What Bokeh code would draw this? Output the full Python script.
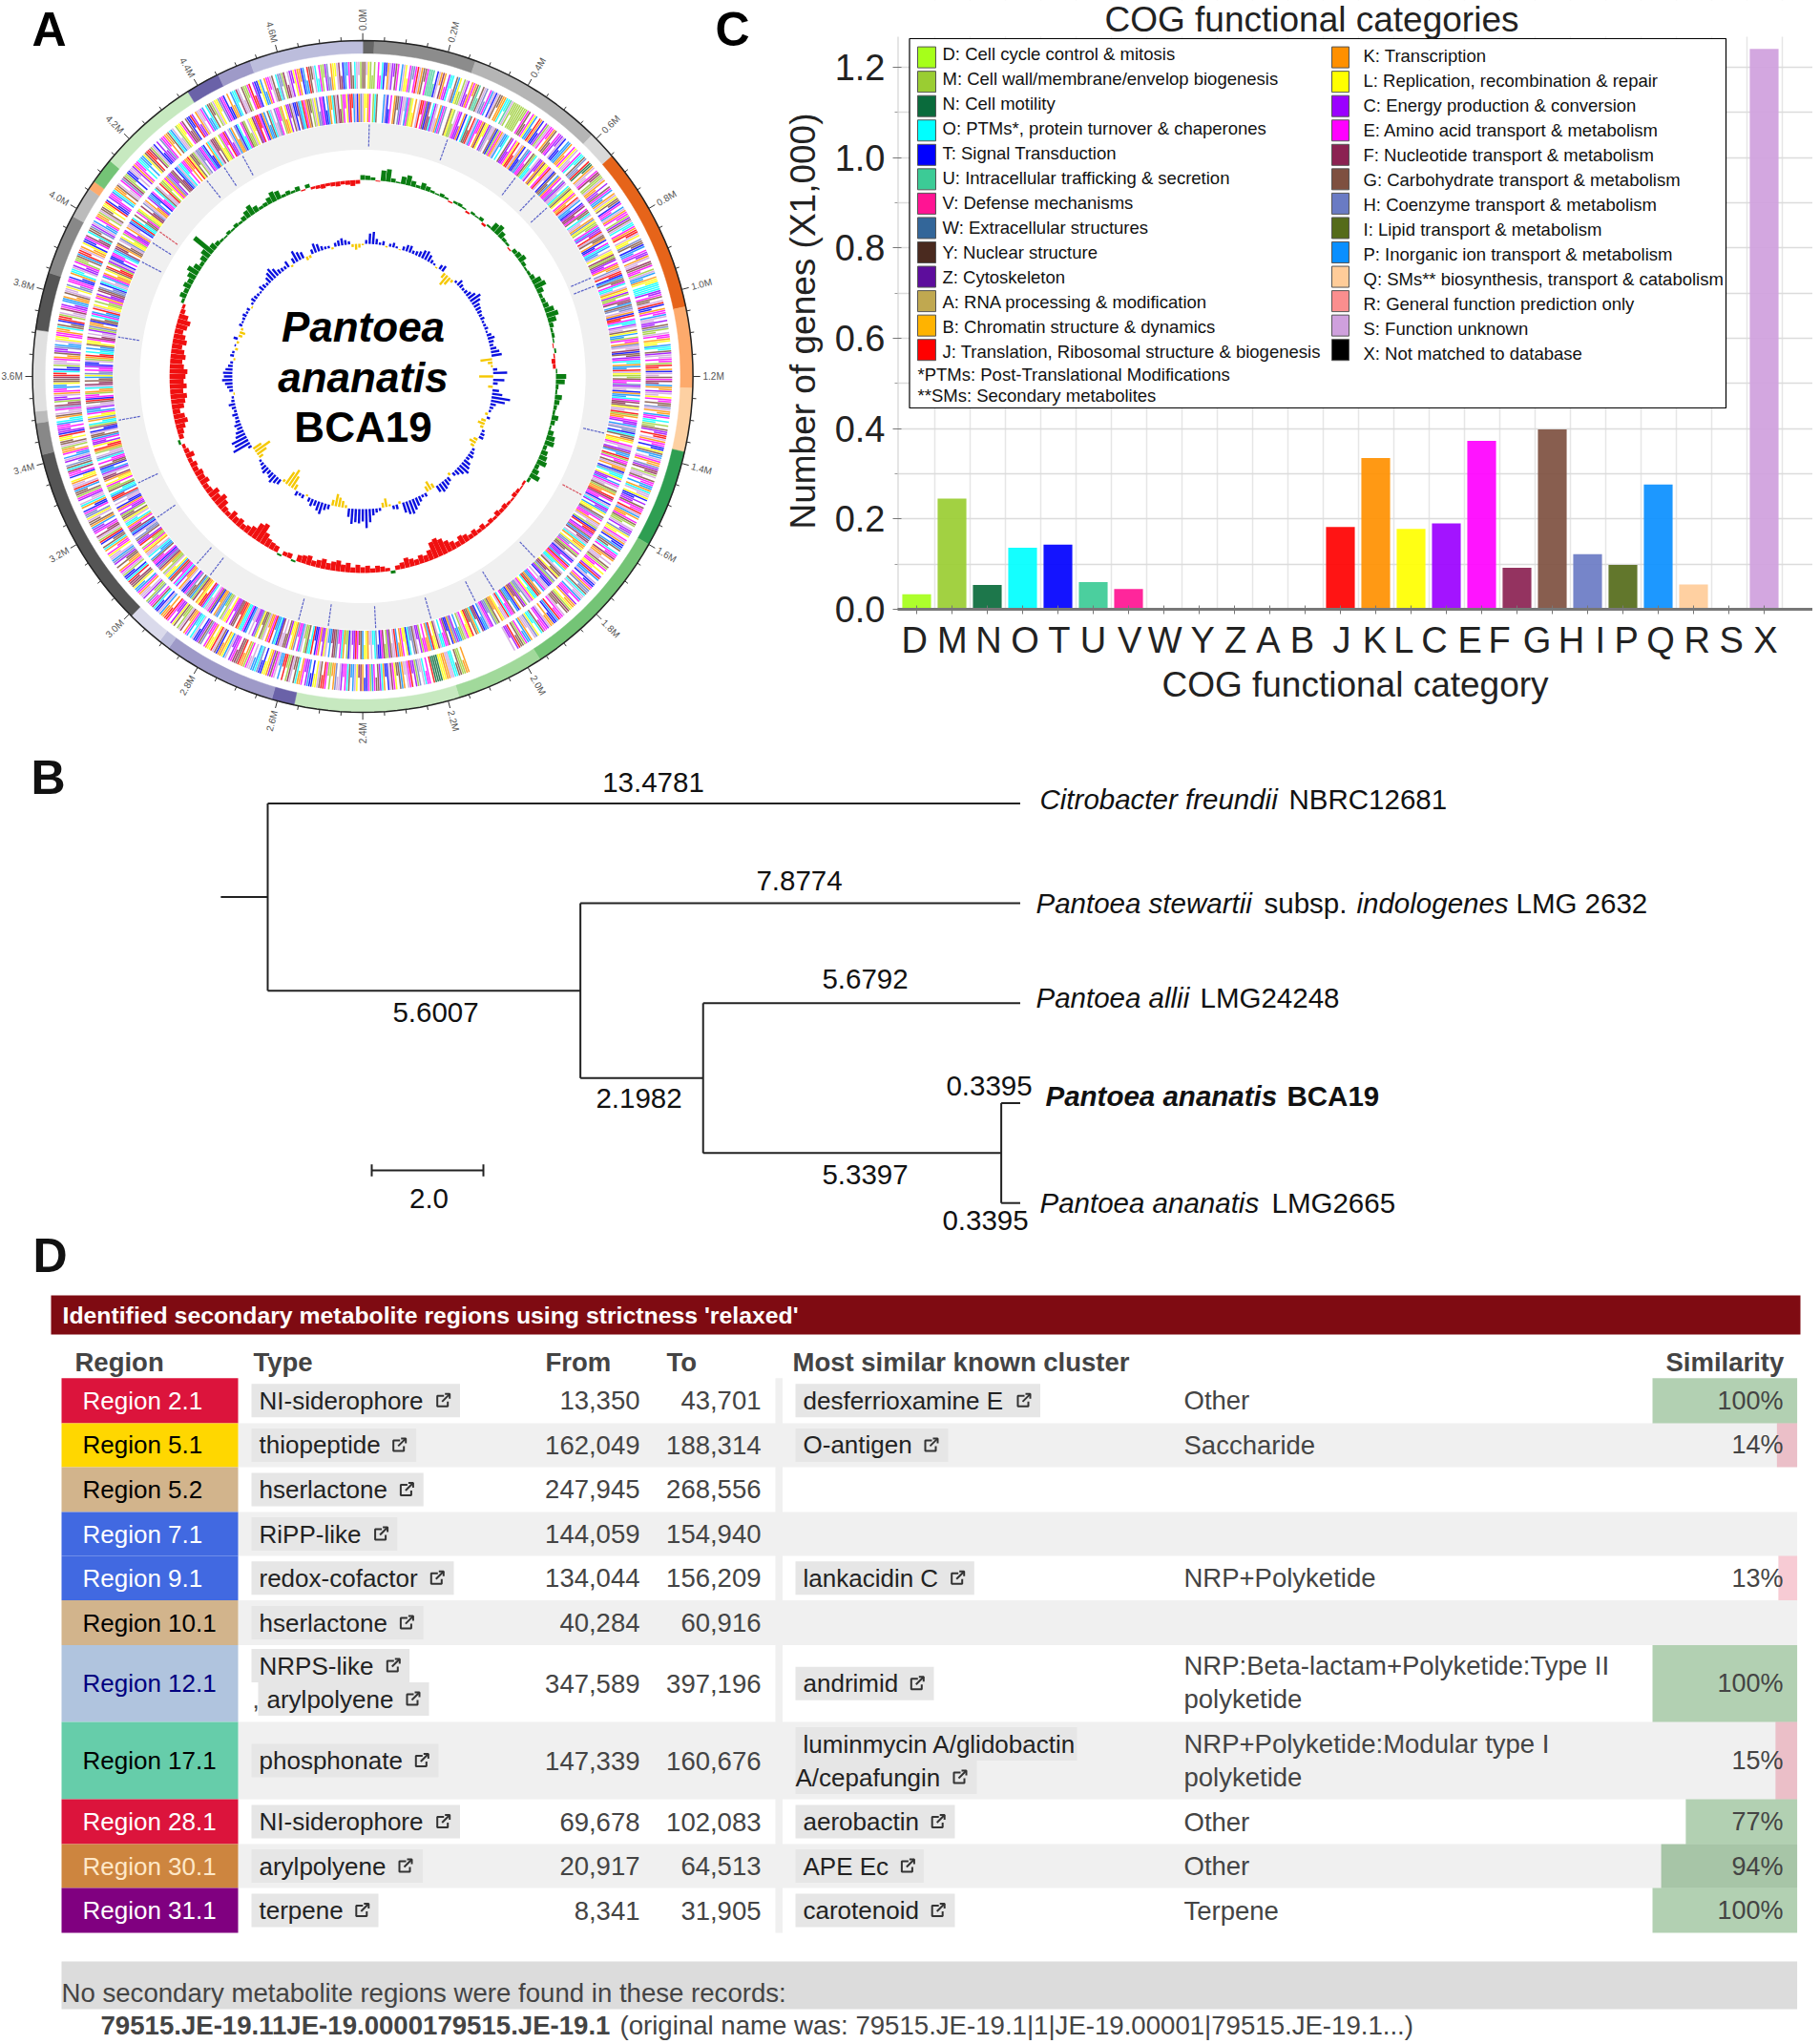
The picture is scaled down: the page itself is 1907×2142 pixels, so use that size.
import math
from bokeh.plotting import figure
from bokeh.layouts import column, row
from bokeh.models import Range1d, FixedTicker
from bokeh.core.properties import value
from bokeh.embed import file_html
from bokeh.resources import INLINE

FONT = value("Liberation Sans")
AXFONT = "Liberation Sans"

# ---------- COG data ----------
# axis letters, and where each letter sits in bar-position units (the letters do not line up with the bars)
cog_order = ["D","M","N","O","T","U","V","W","Y","Z","A","B","J","K","L","C","E","F","G","H","I","P","Q","R","S","X"]
cog_letter_pos = [-0.06,1.01,2.04,3.07,4.04,5.0,6.03,7.03,8.1,9.03,9.96,10.92,12.04,12.97,13.79,14.66,15.67,16.5,17.57,18.54,19.36,20.1,21.07,22.1,23.07,24.04]
bar_values = [0.033,0.245,0.054,0.136,0.143,0.060,0.045,0,0,0,0,0,0.182,0.335,0.178,0.190,0.373,0.092,0.398,0.122,0.098,0.276,0.055,0,1.240]
bar_colors = ["#a6ff1a","#9acd32","#0a6b3c","#00ffff","#0000ff","#3ccb96","#ff1493","#336699","#4a2a1f","#5d0d9c","#c0a850","#ffb300",
              "#ff0000","#ff9000","#ffff00","#9b00ff","#ff00ff","#8b2252","#7e5040","#6a7bc4","#556b1a","#0a8fff","#ffcc99","#fa8e8e","#cfa0dd"]
legend_left = ["D: Cell cycle control & mitosis","M: Cell wall/membrane/envelop  biogenesis","N: Cell motility",
               "O: PTMs*, protein turnover & chaperones","T: Signal Transduction","U: Intracellular trafficking & secretion",
               "V: Defense mechanisms","W: Extracellular structures","Y: Nuclear structure","Z: Cytoskeleton",
               "A: RNA processing & modification","B: Chromatin structure & dynamics","J: Translation, Ribosomal structure & biogenesis"]
legend_right = ["K: Transcription","L: Replication, recombination & repair","C: Energy production & conversion",
                "E: Amino acid transport & metabolism","F: Nucleotide transport & metabolism","G: Carbohydrate transport & metabolism",
                "H: Coenzyme transport & metabolism","I: Lipid transport & metabolism","P: Inorganic ion transport & metabolism",
                "Q: SMs** biosynthesis, transport & catabolism","R: General function prediction only","S: Function unknown","X: Not matched to database"]
legend_left_colors = bar_colors[:13]
legend_right_colors = ["#ff9000","#ffff00","#9b00ff","#ff00ff","#8b2252","#7e5040","#6a7bc4","#556b1a","#0a8fff","#ffcc99","#fa8e8e","#cfa0dd","#000000"]
legend_notes = ["*PTMs: Post-Translational Modifications","**SMs: Secondary metabolites"]
color_of = dict(zip("DMNOTUVWYZABJ", legend_left_colors))
color_of.update(dict(zip("KLCEFGHIPQRSX", legend_right_colors)))

# ---------- Circular genome (panel A) ----------
ring_edges = [0,2,20,44,49,78,92,103,120,147.5,163,192,196,216,218,224.5,256.5,262,264,278,288,298.5,304,305.5,310,328,334,340,360]
ring_colors = ["#666666","#8c8c8c","#b5b5b5","#d9d9d9","#e6641a","#fdaa6c","#fdd0a2","#2e9e52","#74c476","#a1d99b","#c7e9c0",
               "#6a62a8","#9e9ac8","#bcbddc","#dadaeb","#555555","#888888","#bbbbbb","#e0e0e0","#555555","#888888","#bbbbbb",
               "#fdaa6c","#74c476","#c7e9c0","#6a62a8","#9e9ac8","#bcbddc"]
genome_mb = 4.8
major_labels = ["0.0M","0.2M","0.4M","0.6M","0.8M","1.0M","1.2M","1.4M","1.6M","1.8M","2.0M","2.2M","2.4M","2.6M","2.8M","3.0M","3.2M","3.4M","3.6M","3.8M","4.0M","4.2M","4.4M","4.6M"]
rna_deg = [1.5,20,38,44,48,67,69,103,136,148,153,164,177,188,195,218,222,236,245,260,279,297,302,321,326,331]
rna_red_deg = [118,305]

# gene stripes, clockwise from 0.0M; letter = COG class, lower case = short stripe, '.' = no gene
cds_forward = ("GGsLMmM.EeOTtKSCcGE.PSLlEHhEJSKGgEUUUuTSkFKeCOosGPLmMSCcKEkGUuGSHhEPsTSGgKKOoUSMm"
               "MMMMMmEGgELPpJKTtCMSEeKGgECcSTtPPKkELSsEOoGHhJNnKSsEFfMMSKkCcGEPpKSLGgTEePSKEeMCG"
               "SOoEKJjSLlHGgTPpECcKSsFGEeMSPpKLlOOOOCcEGgSJTtKEePSsCcGHMmSEeKLlPOoGCSsEeMJjKTSsG"
               "EFfPKkCSsLEeGgHSKkPEeOoMmGCcJjSKEeTtLGPpSEKkHCFfMSsGEePpKOSsLTtCcGEeJSPKkEGMmSCcH"
               "LlESKTtPGgOEeFKkSsGMEeLlCJPpSTtEKHhGOSsPEeCKkLMFGgSEeJPTtKkSCEeGOoLHSsKPpEMGgJCcS"
               "........................KkMMGgOOSSKKLLNNNNJ.EeOSsHMCcJESsKPGgLEFSTtKOCGgEPM"
               "ETtKFfLSPpGOEeCSsHKkMmEJjGSLlTtPCcEKkOGgSFMmJjPpSEGCKLlTtHOPpSsEMKkJGFfECcSPLKkTG"
               "SJLlKEeHGCTtSOoPEKkFSMmGLCcEJjKkPSTtOGEeHMmCSsKEPpLGFfJOTtMSEKkGgCHPSsLEeKOGgTJMS"
               "FfECcPKGgSLHhETtKOSsCEMGgPJSsKLlTEeFOGHhCSPpEKkMSGgLlJTCcEePOoKGSsEHFfMCcSKEePpLG"
               "GFJjOTtMSsEKkGCcHPpSLlEEKkOGgTJjMSsFECcPPKkGSsLHhEETtKOoSCcEMmGPJjSKkLTtEFfOGgHCS"
               "PpEKkMSGgLlJTtCEePOKkGSsEHFMmTtSsCKEeOoPpLGJjFMSTtCcHEeKkGOPSsMLlEFfGTtJCcKSsEPpO"
               "GgMSLlHCETtKkPOoFSsGMmEJjCTtLPpKEeSGgOHhMFfSCcLEKkTPpJGgSOoEMmCHhKLlSFfTPpEGgOSsM")
cds_reverse = ("SLlKE.MOG...PSTtE.KGgHCSsPEMLlK.SJjEGTFfOCSsKPEH..GLMmSECcKT.OGgJSPEeKFLlCHSsGTMEK"
               "SPpO.GCcELJjSKTtHPEeGMOoSCcKFLlEJSsTGgPKEeHCSsOMGLlEKkJSPpTCFfEGgOSsKHLMmEPCcJSGg"
               "KTtEOPpSLlFMGCcEKkHSJjTPGgEOoSKLCMmEFfPGHhSKTJjEOoCSsGLPpMEeKHSsFTGgCEOoKPpJSLMmG"
               "EeHCSsTKPpOEFfGLSsJMKkECcPSHhTOGgKLlESsCFPpJMEeGSKkTHOoLCcPESsGMKkJFEeTSOCcPLlGHE"
               "eKSsMTJjCEGPFfSOKkLHhEMGgSTCcPJEKOoSGgLFfHMCTtSsEPpKGJOoLESHhMCFfKTPpGEeOJSsLKkGM"
               "HhCESPpTFfOKGgJLlESMmPpCHKTtGEeOoSFLlJPKkEeMCcSGHhOTLlEKkPJSsGCMmFETtHOoSsKLlPGg"
               "EJCcSTMmKOEeHGFfPpSLCcKETtJOoGMmSPEeHKLlCGgSsFTOPpJEKkSMGgLHCcSsPTEOOKJjGFCcELlS"
               "MmPHKkTGESsOCJjLKkFMPGgHETtSKkCOEeGJPLlSMmKFHCTEeGPpOSsKLEMmJCcGHhSTPFfEKOoSLGgM"
               "CcEKTtSsHJjPOoGMmELlKFfSCPpTGgEeOHSsMKJjLCcEPGgSTtFMOoKHLlEPpCSsGJTEeMKkOSFfGgPL"
               "HhEeCTtSMKJjOoPpGLlEFfSsCMHKkTGgOEPpJSLlMmEKCcFGHhTOSsPEKkLGJjMCSTtEeOPFfKGgSHLl"
               "MECcKSsTPJOoGgEMLlFfHSKkCPpTEeOGSsJMmLEKHCcGFfTPSOoEeKkJLGgMSHhCEPTtKOSFfGLlMEeJ"
               "CcSPKkHTOoEGMmSLlFCJjETKPpGOSsHEeMKkLCcGSTtFPOJEKGgMSLHhCETtPKkOGSFfMEeLCJjPSTKH")
# GC content deviation, one value every 1.5 degrees clockwise from 0.0M (+ green, - red)
gc_content = [10,9,6,-2,22,26,8,3,16,21,12,6,14,10,5,3,7,4,-3,5,
              6,3,-4,5,3,7,-5,4,18,22,14,7,5,-3,9,12,16,8,4,6,
              10,20,25,14,7,9,12,20,26,18,9,5,6,3,-2,4,-3,-8,-6,3,
              22,19,6,4,15,11,7,5,14,9,4,12,18,20,8,14,17,21,9,14,
              22,6,-5,-3,-7,-9,-4,-6,-10,-8,-12,-6,-9,-5,-12,-8,-14,-10,-16,-20,
              -12,-18,-25,-34,-40,-36,-22,-14,-18,-12,-16,-21,-13,-9,6,-7,-11,-14,-9,-15,
              -12,-17,-11,-20,-15,-23,-19,-14,-21,-16,-12,-20,-17,-14,4,-11,-9,4,-13,-15,
              -18,-26,-42,-36,-22,-16,-12,-18,-14,-20,-10,-13,-22,-28,-19,-24,-14,-12,-20,-16,
              -18,-12,-15,-9,-18,-11,-7,5,-10,-14,-20,-28,-24,-16,-26,-30,-35,-28,-36,-30,
              -34,-38,-30,-26,-32,-28,-22,-30,-25,-18,-24,-28,-20,-10,-6,6,14,10,16,12,
              18,25,16,8,14,20,50,14,9,5,3,7,4,8,5,10,16,22,13,6,
              8,14,22,18,6,9,5,10,-3,8,-5,-7,-9,-6,-8,-10,-7,-9,-12,-8]
# GC skew, same bins (+ blue, - yellow)
gc_skew = [-3,8,22,26,12,5,9,-3,6,10,4,-2,8,14,15,7,9,12,18,20,
           15,8,4,-3,10,13,-12,-25,-18,-6,5,14,9,6,8,12,18,26,20,14,
           12,10,7,9,5,6,8,4,10,15,11,8,13,18,22,-25,-10,-4,9,30,
           -30,24,10,-10,14,22,40,30,12,8,5,-6,7,-10,-15,-7,6,9,10,-9,
           -15,-8,6,9,12,8,16,20,25,18,12,8,-6,10,14,18,20,15,-10,-20,
           -12,8,6,12,18,24,30,28,22,-5,10,8,-4,-18,-10,6,9,14,28,40,
           26,30,28,32,18,-6,-14,-20,-26,-12,10,14,25,20,12,16,9,-4,8,6,
           10,-12,-28,-40,-30,-6,12,15,20,14,10,16,12,8,5,-10,-24,-38,-20,8,
           40,32,35,22,18,12,15,10,8,12,6,9,14,7,5,-3,8,12,16,22,
           18,20,15,10,6,-4,8,5,-6,3,-5,9,-8,-12,-5,7,4,6,9,5,
           7,-3,5,10,8,6,4,12,9,6,14,20,25,18,10,8,7,14,-4,12,
           25,18,14,-8,-6,10,20,16,9,6,5,-4,8,12,15,10,7,-6,-12,-8]
center_title = ["Pantoea","ananatis","BCA19"]

# ---------- Tree (panel B) ----------
branch_labels = ["13.4781","7.8774","5.6007","5.6792","2.1982","0.3395","5.3397","0.3395"]
len_citro, len_stew, len_inner1, len_allii, len_inner2, len_bca, len_inner3, len_lmg = [float(v) for v in branch_labels]
scale_bar = 2.0

# ---------- Table (panel D) ----------
regions = ["Region 2.1","Region 5.1","Region 5.2","Region 7.1","Region 9.1","Region 10.1","Region 12.1","Region 17.1","Region 28.1","Region 30.1","Region 31.1"]
region_fill = ["#dc143c","#ffd700","#d2b48c","#4169e1","#4169e1","#d2b48c","#b0c4de","#66cdaa","#dc143c","#cd853f","#800080"]
region_ink = ["#ffffff","#000000","#000000","#ffffff","#ffffff","#000000","#000080","#000000","#ffffff","#ffe8c8","#ffffff"]
types = ["NI-siderophore","thiopeptide","hserlactone","RiPP-like","redox-cofactor","hserlactone","NRPS-like","phosphonate","NI-siderophore","arylpolyene","terpene"]
froms = ["13,350","162,049","247,945","144,059","134,044","40,284","347,589","147,339","69,678","20,917","8,341"]
tos = ["43,701","188,314","268,556","154,940","156,209","60,916","397,196","160,676","102,083","64,513","31,905"]
clusters = ["desferrioxamine E","O-antigen","","","lankacidin C","","andrimid","luminmycin A/glidobactin","aerobactin","APE Ec","carotenoid"]
categories = ["Other","Saccharide","","","NRP+Polyketide","","NRP:Beta-lactam+Polyketide:Type II","NRP+Polyketide:Modular type I","Other","Other","Terpene"]
similarity = [100,14,None,None,13,None,100,15,77,94,100]
no_region_text = ["No secondary metabolite regions were found in these records:","79515.JE-19.11JE-19.0000179515.JE-19.1","(original name was: 79515.JE-19.1|1|JE-19.00001|79515.JE-19.1...)"]

# layout constants (reference pixels)
row_tops = [1443.8,1490.9,1536.9,1584,1630,1676.6,1723.6,1804,1885,1932,1978,2025]
type_box_right = [481.5,435.6,443.2,415.8,475,443.2,428.6,459,481.5,442.6,396]
type_icon_x = [463.7,417.7,425.4,398.6,457.3,425.4,411.3,441.3,463.7,424,378.8]
cluster_box_right = [1089.5,993,None,None,1020.3,None,978,1128,1000,967.4,1000]
cluster_icon_x = [1072,975,None,None,1002.7,None,960.3,1005,982.2,950.4,982.2]

def base_fig(w, h, xr, yr):
    p = figure(width=w, height=h, x_range=xr, y_range=yr, output_backend="svg", toolbar_location=None,
               x_axis_type=None, y_axis_type=None, min_border=0, outline_line_color=None, background_fill_color="white")
    p.grid.visible = False
    p.frame_align = False
    return p

# ================= Panel A (also carries the y title of panel C) =================
CX, CY, RX, RY = 379.6, 394.0, 346.0, 352.0
SPLIT = 868
def ux(px): return (px - CX) / RX
def uy(py): return (CY - py) / RY
pa = base_fig(SPLIT, 780, Range1d(ux(0), ux(SPLIT)), Range1d(uy(780), uy(0)))
def pol(r, deg):
    t = math.radians(deg)
    return r * math.sin(t), r * math.cos(t)
def disk(r, color):
    pts = [pol(r, d) for d in range(0, 360, 2)]
    pa.patch([q[0] for q in pts], [q[1] for q in pts], fill_color=color, line_color=None)

# outer ring
xs, ys = [], []
for a, b in zip(ring_edges[:-1], ring_edges[1:]):
    n = max(2, int(b - a) + 2)
    angs = [a + (b - a) * i / (n - 1) for i in range(n)]
    o = [pol(1.0, d) for d in angs]; i_ = [pol(0.962, d) for d in reversed(angs)]
    xs.append([q[0] for q in o + i_]); ys.append([q[1] for q in o + i_])
pa.patches(xs, ys, fill_color=ring_colors, line_color=ring_colors, line_width=0.5)
pts = [pol(1.0, d) for d in range(0, 361, 2)]
pa.line([q[0] for q in pts], [q[1] for q in pts], line_color="#222222", line_width=1.5)
# ticks and labels
n_minor = int(round(genome_mb / 0.05))
tx0, ty0, tx1, ty1 = [], [], [], []
for k in range(n_minor):
    d = 360 * k / n_minor
    L = 1.022 if k % 4 == 0 else 1.012
    a = pol(1.0, d); b = pol(L, d)
    tx0.append(a[0]); ty0.append(a[1]); tx1.append(b[0]); ty1.append(b[1])
pa.segment(tx0, ty0, tx1, ty1, line_color="#333333", line_width=1)
for lab, mb in zip(major_labels, [0.2 * i for i in range(len(major_labels))]):
    d = 360 * mb / genome_mb
    x, y = pol(1.03, d)
    if d <= 180:
        rot, al = math.radians(90 - d), "left"
    else:
        rot, al = math.radians(270 - d), "right"
    pa.text([x], [y], text=[lab], angle=rot, text_font=FONT, text_font_size="10px",
            text_color="#555555", text_align=al, text_baseline="middle")
# CDS tracks
for seq, r0, r1 in ((cds_forward, 0.857, 0.937), (cds_reverse, 0.757, 0.842)):
    x0, y0, x1, y1, cc = [], [], [], [], []
    for i, ch in enumerate(seq):
        if ch == ".":
            continue
        d = 360 * i / len(seq)
        ra, rb = r0, r1
        if ch.islower():
            m = (r0 + r1) / 2
            ra, rb = (r0, m) if i % 2 else (m, r1)
        a = pol(ra, d); b = pol(rb, d)
        x0.append(a[0]); y0.append(a[1]); x1.append(b[0]); y1.append(b[1]); cc.append(color_of[ch.upper()])
    pa.segment(x0, y0, x1, y1, line_color=cc, line_width=1.5, line_alpha=0.85)
# gray feature band
disk(0.755, "#f0f0f0")
disk(0.675, "#ffffff")
for degs, col in ((rna_deg, "#5a62c8"), (rna_red_deg, "#d9535f")):
    x0, y0, x1, y1 = [], [], [], []
    for d in degs:
        a = pol(0.685, d); b = pol(0.75, d)
        x0.append(a[0]); y0.append(a[1]); x1.append(b[0]); y1.append(b[1])
    pa.segment(x0, y0, x1, y1, line_color=col, line_width=1.2, line_dash="3 1")
# GC tracks
def hist_track(vals, r0, pos_col, neg_col, width):
    x0, y0, x1, y1, cc = [], [], [], [], []
    for i, v in enumerate(vals):
        d = 360 * i / len(vals)
        a = pol(r0, d); b = pol(r0 + v / 707.0, d)
        x0.append(a[0]); y0.append(a[1]); x1.append(b[0]); y1.append(b[1])
        cc.append(pos_col if v > 0 else neg_col)
    pa.segment(x0, y0, x1, y1, line_color=cc, line_width=width)
hist_track(gc_content, 0.585, "#0a7d12", "#f01010", 5.0)
hist_track(gc_skew, 0.395, "#0a10e0", "#f5c800", 2.4)
for txt, py, st in zip(center_title, [342, 395, 447], ["bold italic", "bold italic", "bold"]):
    pa.text([ux(380)], [uy(py)], text=[txt], text_font=FONT, text_font_size="44px", text_font_style=st,
            text_color="#000000", text_align="center", text_baseline="middle")
for letter, px in (("A", 51), ("C", 767)):
    pa.text([ux(px)], [uy(30)], text=[letter], text_font=FONT, text_font_size="50px", text_font_style="bold",
            text_color="#000000", text_align="center", text_baseline="middle")
pa.text([ux(841)], [uy(336)], text=["Number of genes (X1,000)"], angle=math.pi / 2, text_font=FONT, text_font_size="37px",
        text_color="#222222", text_align="center", text_baseline="middle")

# ================= Panel C =================
step = 37.0
xstart = -20.0 / step
FH = 638
pc = figure(width=1899 - SPLIT, height=780, x_range=Range1d(xstart, xstart + 959 / step), y_range=Range1d(0, FH / 473.5),
            output_backend="svg", toolbar_location=None, min_border_left=940 - SPLIT, min_border_right=0, min_border_top=0,
            min_border_bottom=142, outline_line_color=None, background_fill_color="white")
pc.frame_align = False
pc.extra_x_ranges["px"] = Range1d(940, 1899)
pc.extra_y_ranges["py"] = Range1d(FH, 0)
xi = list(range(len(bar_values)))
pc.xaxis.ticker = FixedTicker(ticks=cog_letter_pos, minor_ticks=xi)
pc.xaxis.major_label_overrides = {p_: c for p_, c in zip(cog_letter_pos, cog_order)}
y_major = [0, 0.2, 0.4, 0.6, 0.8, 1, 1.2]
pc.yaxis.ticker = FixedTicker(ticks=y_major, minor_ticks=[0.1, 0.3, 0.5, 0.7, 0.9, 1.1])
pc.yaxis.major_label_overrides = {v: "%.1f" % v for v in y_major}
pc.xgrid.ticker = FixedTicker(ticks=[i + 0.5 for i in xi])
pc.ygrid.ticker = FixedTicker(ticks=[round(0.1 * i, 1) for i in range(1, 13)])
pc.xgrid.grid_line_color = "#e6e6e6"; pc.ygrid.grid_line_color = "#dcdcdc"
pc.xgrid.grid_line_width = 1.5; pc.ygrid.grid_line_width = 1.5
pc.xaxis.axis_label = "COG functional category"
for ax in (pc.xaxis[0], pc.yaxis[0]):
    ax.major_label_text_font = AXFONT; ax.major_label_text_font_size = "38px"; ax.major_label_text_color = "#222222"
    ax.axis_label_text_font = AXFONT; ax.axis_label_text_font_size = "37px"; ax.axis_label_text_font_style = "normal"
    ax.axis_label_text_color = "#222222"
pc.yaxis.major_tick_line_color = "#777777"; pc.yaxis.minor_tick_line_color = "#999999"
pc.yaxis.major_tick_in = 4; pc.yaxis.major_tick_out = 5; pc.yaxis.minor_tick_in = 0; pc.yaxis.minor_tick_out = 3
pc.xaxis.major_tick_line_color = None; pc.xaxis.minor_tick_line_color = "#777777"
pc.xaxis.minor_tick_in = 4; pc.xaxis.minor_tick_out = 5; pc.xaxis.major_tick_out = 5; pc.xaxis.major_tick_in = 0
pc.xaxis.axis_line_color = "#777777"; pc.xaxis.axis_line_width = 3
pc.yaxis.axis_line_color = None
pc.xaxis.major_label_standoff = 6; pc.xaxis.axis_label_standoff = 2
pc.yaxis.major_label_standoff = 8
pc.vbar(x=xi, top=bar_values, width=0.815, fill_color=bar_colors, line_color=None, fill_alpha=0.92)
# white band above the chart, hiding grid where the title sits
pc.quad(left=[940], right=[1899], top=[0], bottom=[38], fill_color="white", line_color=None, x_range_name="px", y_range_name="py")
pc.line([940, 940], [38, FH], line_color="#cccccc", line_width=2, x_range_name="px", y_range_name="py")
# legend box
pc.quad(left=[952.5], right=[1808], top=[40], bottom=[427], fill_color="white", line_color="#000000", line_width=1.2,
        x_range_name="px", y_range_name="py")
pitch = (366.0 - 59.4) / 12
for labels, cols, sx0, sx1, tx, ty in ((legend_left, legend_left_colors, 961, 980, 987, 55.5), (legend_right, legend_right_colors, 1395, 1413, 1428, 57.5)):
    ly = [59.6 + pitch * i for i in range(len(labels))]
    pc.quad(left=[sx0] * len(ly), right=[sx1] * len(ly), top=[y - 11 for y in ly], bottom=[y + 11 for y in ly], fill_color=cols,
            line_color="#555555", line_width=1, x_range_name="px", y_range_name="py")
    tys = [ty + 26.0 * i for i in range(len(labels))]
    pc.text([tx] * len(ly), tys, text=labels, text_font=FONT, text_font_size="18.5px", text_color="#111111",
            text_align="left", text_baseline="middle", x_range_name="px", y_range_name="py")
pc.text([961, 961], [392, 414], text=legend_notes, text_font=FONT, text_font_size="18.5px", text_color="#111111",
        text_align="left", text_baseline="middle", x_range_name="px", y_range_name="py")
pc.text([1374], [20], text=["COG functional categories"], text_font=FONT, text_font_size="37px", text_color="#222222",
        text_align="center", text_baseline="middle", x_range_name="px", y_range_name="py")

# ================= Panel B (carries the letter D too) =================
BSPLIT = 1345
PAGE_BOTTOM = 2140
UNIT = 58.5; X0 = 280.0; Y_T = 841.4; Y_S = 104.7
def tx_(px): return (px - X0) / UNIT
def ty_(py): return (py - Y_T) / Y_S
pb = base_fig(1899, BSPLIT - 780, Range1d(tx_(0), tx_(1899)), Range1d(ty_(BSPLIT), ty_(780)))
n_citro, n_stew, n_allii, n_bca, n_lmg = 0.0, 1.0, 2.0, 3.0, 4.0
x1 = len_inner1
x2 = x1 + len_inner2
x3 = x2 + len_inner3
y3 = (n_bca + n_lmg) / 2
y2 = (n_allii + y3) / 2
y1 = (n_stew + y2) / 2
y0 = (n_citro + y1) / 2
sx0 = [-0.84, 0, 0, 0, x1, x1, x1, x2, x2, x2, x3, x3, x3]
sx1 = [0, 0, len_citro, x1, x1, x1 + len_stew, x2, x2, x2 + len_allii, x3, x3, x3 + len_bca, x3 + len_lmg]
sy0 = [y0, n_citro, n_citro, y1, n_stew, n_stew, y2, n_allii, n_allii, y3, n_bca, n_bca, n_lmg]
sy1 = [y0, y1, n_citro, y1, y2, n_stew, y2, y3, n_allii, y3, n_lmg, n_bca, n_lmg]
pb.segment(sx0, sy0, sx1, sy1, line_color="#222222", line_width=2)
# scale bar
bx0 = tx_(389); by = ty_(1226)
pb.segment([bx0, bx0, bx0 + scale_bar], [by, by - 0.06, by - 0.06], [bx0 + scale_bar, bx0, bx0 + scale_bar], [by, by + 0.06, by + 0.06],
           line_color="#222222", line_width=2)
def tb(px, py, s, style="normal", size="29.5px", align="left"):
    pb.text([tx_(px)], [ty_(py)], text=[s], text_font=FONT, text_font_size=size, text_font_style=style,
            text_color="#111111", text_align=align, text_baseline="middle")
for s, px, py in zip(branch_labels + ["2.0"], [684, 837, 456, 906, 669, 1036, 906, 1032, 449], [819, 922, 1060, 1025, 1150, 1137, 1230, 1278, 1255]):
    tb(px, py, s, "normal", "29.5px", "center")
for parts, py in (([(1089, "Citrobacter freundii", "italic"), (1350, "NBRC12681", "normal")], 837),
                  ([(1085, "Pantoea stewartii", "italic"), (1324, "subsp.", "normal"), (1421, "indologenes", "italic"), (1588, "LMG 2632", "normal")], 946),
                  ([(1085, "Pantoea allii", "italic"), (1257, "LMG24248", "normal")], 1045),
                  ([(1095, "Pantoea ananatis", "bold italic"), (1348, "BCA19", "bold")], 1148),
                  ([(1089, "Pantoea ananatis", "italic"), (1332, "LMG2665", "normal")], 1260)):
    for px, s, st in parts:
        tb(px, py, s, st)
tb(32, 814, "B", "bold", "50px")
tb(34, 1315, "D", "bold", "50px")

# ================= Panel D =================
pd_ = base_fig(1899, PAGE_BOTTOM - BSPLIT, Range1d(0, 1899), Range1d(PAGE_BOTTOM, BSPLIT))
pd_.extra_x_ranges["sim"] = Range1d(1882.6 / 1.516, (1882.6 - 1899) / 1.516)
def td(px, py, s, size="26px", color="#444444", style="normal", align="left"):
    pd_.text([px], [py], text=[s], text_font=FONT, text_font_size=size, text_font_style=style,
             text_color=color, text_align=align, text_baseline="middle")
pd_.quad(left=[53], right=[1886], top=[1357], bottom=[1398], fill_color="#7f0b12", line_color=None)
td(65, 1378, "Identified secondary metabolite regions using strictness 'relaxed'", "24.8px", "#ffffff", "bold")
for px, s in ((78, "Region"), (265, "Type"), (571, "From"), (698, "To"), (830, "Most similar known cluster"), (1745, "Similarity")):
    td(px, 1427, s, "27.5px", "#444444", "bold")
tops, bots = row_tops[:-1], row_tops[1:]
mids = [(a + b) / 2 for a, b in zip(tops, bots)]
gray = [i for i in range(len(regions)) if i % 2 == 1]
pd_.quad(left=[249] * len(gray), right=[1882.6] * len(gray), top=[tops[i] for i in gray], bottom=[bots[i] for i in gray], fill_color="#f0f0f0", line_color=None)
pd_.quad(left=[812], right=[819.5], top=[row_tops[0]], bottom=[row_tops[-1]], fill_color="#f0f0f0", line_color=None)
pd_.quad(left=[64] * len(regions), right=[249] * len(regions), top=tops, bottom=bots, fill_color=region_fill, line_color=None)
# similarity bars
for i, v in enumerate(similarity):
    if v is None:
        continue
    c = "#006400" if v >= 50 else "#dc143c"
    a = 0.30 if v >= 50 else 0.22
    pd_.hbar(y=[mids[i]], height=[bots[i] - tops[i]], left=[0], right=[v], fill_color=c, fill_alpha=a, line_color=None, x_range_name="sim")
    td(1868, mids[i], "%d%%" % v, "27px", align="right")
box_q = ([], [], [], [])
def box(l, r, y):
    box_q[0].append(l); box_q[1].append(r); box_q[2].append(y - 17.5); box_q[3].append(y + 17.5)
icons = []
texts = []
for i in range(len(regions)):
    y = mids[i]
    texts.append((86, y, regions[i], region_ink[i], "left", "26px"))
    if i == 6:
        box(263, type_box_right[i], 1745); icons.append((type_icon_x[i], 1745)); texts.append((271, 1745, types[i], "#222222", "left", "26px"))
        box(270, 449, 1780); icons.append((432, 1780)); texts.append((279, 1780, "arylpolyene", "#222222", "left", "26px"))
        texts.append((264, 1780, ",", "#444444", "left", "26px"))
    else:
        box(263, type_box_right[i], y); icons.append((type_icon_x[i], y)); texts.append((271, y, types[i], "#222222", "left", "26px"))
    texts.append((670, y, froms[i], "#444444", "right", "27.5px"))
    texts.append((797, y, tos[i], "#444444", "right", "27.5px"))
    if clusters[i]:
        if i == 7:
            box(833, cluster_box_right[i], 1827); texts.append((841, 1827, clusters[i], "#222222", "left", "26px"))
            box(833, 1023, 1862); icons.append((cluster_icon_x[i], 1862)); texts.append((833, 1862, "A/cepafungin", "#222222", "left", "26px"))
        else:
            box(833, cluster_box_right[i], y); icons.append((cluster_icon_x[i], y)); texts.append((841, y, clusters[i], "#222222", "left", "26px"))
    if categories[i]:
        if i in (6, 7):
            yy = (1745, 1780) if i == 6 else (1827, 1862)
            texts.append((1240, yy[0], categories[i], "#444444", "left", "27.5px"))
            texts.append((1240, yy[1], "polyketide", "#444444", "left", "27.5px"))
        else:
            texts.append((1240, y, categories[i], "#444444", "left", "27.5px"))
pd_.quad(left=box_q[0], right=box_q[1], top=box_q[2], bottom=box_q[3], fill_color="#e6e6e6", line_color=None)
for x, y, s, c, al, sz in texts:
    td(x, y, s, sz, c, "normal", al)
ixs, iys = [], []
for x, y in icons:
    ixs += [[x + 1, x - 6, x - 6, x + 5, x + 5], [x - 1, x + 7], [x + 2, x + 7, x + 7]]
    iys += [[y - 5, y - 5, y + 6, y + 6, y + 1], [y + 1, y - 7], [y - 7, y - 7, y - 2]]
pd_.multi_line(ixs, iys, line_color="#333333", line_width=2)
pd_.quad(left=[64], right=[1882.6], top=[2055], bottom=[2105], fill_color="#dcdcdc", line_color=None)
td(64, 2088, no_region_text[0], "27.6px", "#444444")
td(105, 2121.5, no_region_text[1], "27.6px", "#444444", "bold")
td(649, 2121.5, no_region_text[2], "27.6px", "#444444")

page = column(row(pa, pc, spacing=0), pb, pd_, spacing=0)
open("out.html", "w").write(file_html(page, INLINE))
